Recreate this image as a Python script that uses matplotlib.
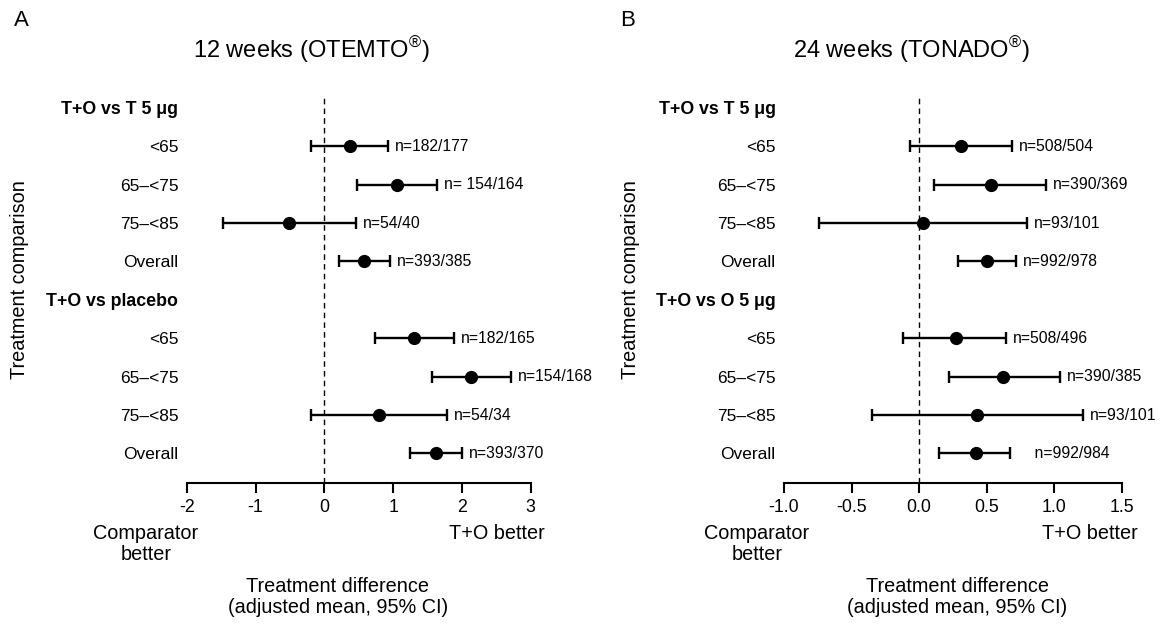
import matplotlib
matplotlib.use("Agg")
import matplotlib.pyplot as plt
import numpy as np

plt.rcParams['font.family'] = ['Liberation Sans', 'DejaVu Sans']
plt.rcParams['axes.unicode_minus'] = False
plt.rcParams['mathtext.default'] = 'regular'

W, H = 1161, 635

age_groups = ["<65", "65–<75", "75–<85", "Overall"]

# A: 12 weeks (OTEMTO)
a_headers = ["T+O vs T 5 μg", "T+O vs placebo"]
a_est_1 = [0.38, 1.06, -0.52, 0.58]
a_lo_1 = [-0.19, 0.48, -1.47, 0.22]
a_hi_1 = [0.93, 1.64, 0.46, 0.95]
a_n_1 = ["n=182/177", "n= 154/164", "n=54/40", "n=393/385"]
a_est_2 = [1.31, 2.13, 0.80, 1.63]
a_lo_2 = [0.74, 1.57, -0.19, 1.25]
a_hi_2 = [1.89, 2.71, 1.78, 2.00]
a_n_2 = ["n=182/165", "n=154/168", "n=54/34", "n=393/370"]
a_ticks = [-2, -1, 0, 1, 2, 3]

# B: 24 weeks (TONADO)
b_headers = ["T+O vs T 5 μg", "T+O vs O 5 μg"]
b_est_1 = [0.31, 0.53, 0.03, 0.50]
b_lo_1 = [-0.07, 0.11, -0.74, 0.29]
b_hi_1 = [0.69, 0.94, 0.80, 0.72]
b_n_1 = ["n=508/504", "n=390/369", "n=93/101", "n=992/978"]
b_est_2 = [0.27, 0.62, 0.43, 0.42]
b_lo_2 = [-0.12, 0.22, -0.35, 0.15]
b_hi_2 = [0.64, 1.04, 1.21, 0.67]
b_n_2 = ["n=508/496", "n=390/385", "n=93/101", "    n=992/984"]
b_ticks = [-1.0, -0.5, 0.0, 0.5, 1.0, 1.5]


def fx(px):
    return px / W


def fy(py):
    return 1 - py / H


def draw_panel(ax, headers, est, lo, hi, nlab, ticks, fmt):
    labels = []
    for h in headers:
        labels.append(h)
        labels.extend(age_groups)
    ypos = np.arange(len(labels))

    # estimate rows (skip header rows)
    rows = [i for i, lab in enumerate(labels) if lab not in headers]
    e_all = np.concatenate(est)
    l_all = np.concatenate(lo)
    u_all = np.concatenate(hi)
    n_all = sum(nlab, [])

    ax.axvline(0, color='black', lw=1.0, ls=(0, (4, 3)), zorder=1)
    ax.errorbar(e_all, ypos[rows], xerr=[e_all - l_all, u_all - e_all],
                fmt='o', color='black', ms=8.5, capsize=4,
                elinewidth=1.7, capthick=1.7, zorder=3)
    for x, y, t in zip(u_all, ypos[rows], n_all):
        ax.annotate(t, (x, y), xytext=(5, 0), textcoords='offset points',
                    va='center', ha='left', fontsize=11.3)

    ax.set_yticks(ypos)
    ax.set_yticklabels(labels, fontsize=12.5)
    for t in ax.get_yticklabels():
        if t.get_text() in headers:
            t.set_fontweight('bold')
            t.set_fontsize(12.8)
    ax.tick_params(axis='y', length=0, pad=6)

    ax.set_xticks(ticks)
    ax.set_xticklabels([fmt.format(t) for t in ticks], fontsize=12.8)
    ax.tick_params(axis='x', direction='out', length=7.5, width=1.5, pad=4)
    ax.set_xlim(ticks[0], ticks[-1])
    ax.set_ylim(9.77, -0.31)

    for s in ['top', 'right', 'left']:
        ax.spines[s].set_visible(False)
    ax.spines['bottom'].set_linewidth(1.5)


fig = plt.figure(figsize=(W / 100, H / 100), dpi=100)
fig.patch.set_facecolor('white')

ax_a = fig.add_axes([fx(186.7), fy(483), fx(530.7) - fx(186.7), (483 - 96) / H])
ax_b = fig.add_axes([fx(784), fy(483), fx(1121.7) - fx(784), (483 - 96) / H])

draw_panel(ax_a, a_headers, [a_est_1, a_est_2], [a_lo_1, a_lo_2],
           [a_hi_1, a_hi_2], [a_n_1, a_n_2], a_ticks, "{:g}")
draw_panel(ax_b, b_headers, [b_est_1, b_est_2], [b_lo_1, b_lo_2],
           [b_hi_1, b_hi_2], [b_n_1, b_n_2], b_ticks, "{:.1f}")

# panel letters and titles
fig.text(fx(14), fy(20), "A", fontsize=16, va='center', ha='left')
fig.text(fx(620), fy(20), "B", fontsize=16, va='center', ha='left')
fig.text(fx(311), fy(50), "12 weeks (OTEMTO$^{®}$)", fontsize=17, va='center', ha='center')
fig.text(fx(911), fy(50), "24 weeks (TONADO$^{®}$)", fontsize=17, va='center', ha='center')

# side / bottom labels
for xl, xc, xt, xd in [(20, 146, 497, 338), (630, 757, 1090, 957)]:
    fig.text(fx(xl), fy(280), "Treatment comparison", rotation=90,
             fontsize=14.3, va='center', ha='center')
    fig.text(fx(xc), fy(524), "Comparator\nbetter", fontsize=14.3,
             va='top', ha='center', linespacing=1.15)
    fig.text(fx(xt), fy(524), "T+O better", fontsize=14.3, va='top', ha='center')
    fig.text(fx(xd), fy(577), "Treatment difference\n(adjusted mean, 95% CI)",
             fontsize=14.3, va='top', ha='center', linespacing=1.15)

fig.savefig("out.png", dpi=100, facecolor='white')
